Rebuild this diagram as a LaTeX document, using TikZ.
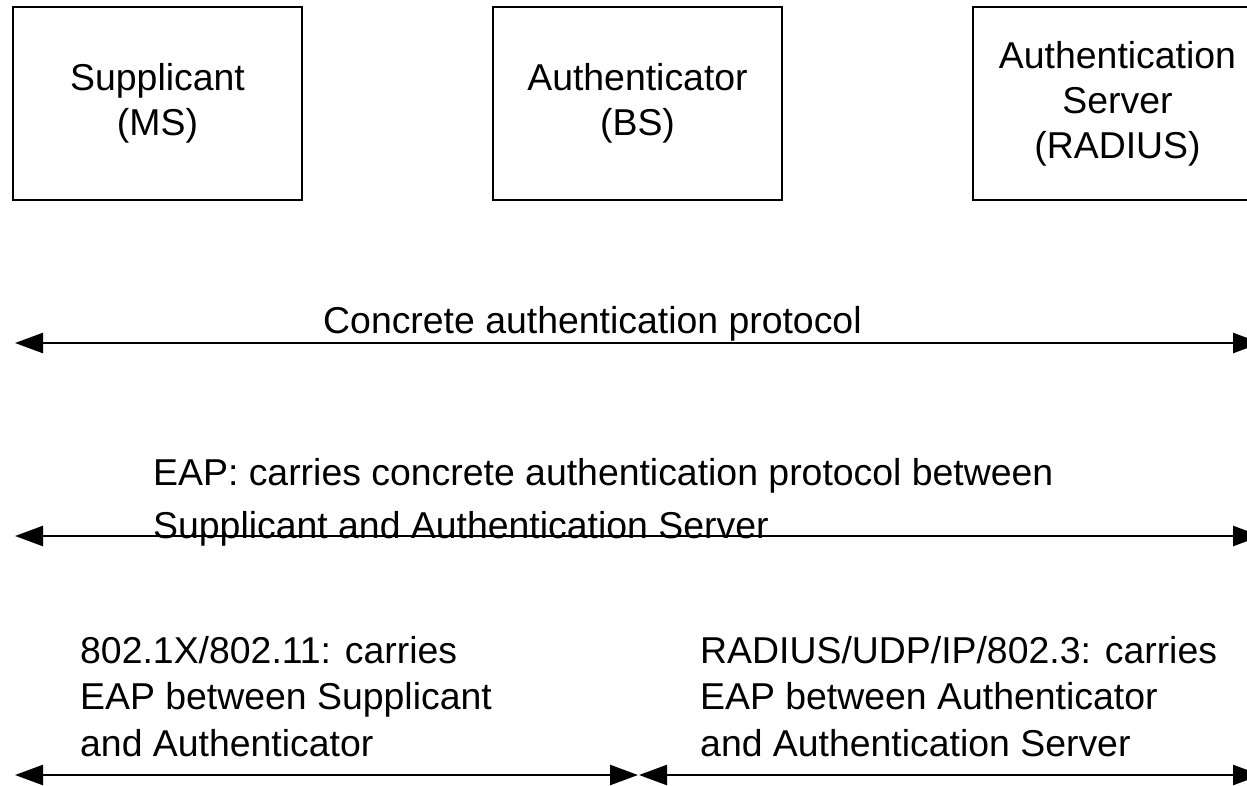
\documentclass[tikz,border=0pt]{standalone}
\usepackage{fontspec}
\setmainfont{Liberation Sans}
\usetikzlibrary{arrows.meta}
\begin{document}
\begin{tikzpicture}[x=1pt,y=-1pt,
  every node/.style={font=\fontsize{37.4}{45}\selectfont},
  entity/.style={draw,line width=2.5pt,minimum width=289pt,minimum height=193pt,align=center,inner sep=0pt},
  proto/.style={line width=2.5pt,{Triangle[length=28pt,width=20pt]}-{Triangle[length=28pt,width=20pt]}},
  lbl/.style={anchor=base west,align=left,inner sep=0pt}]
\useasboundingbox (0,0) rectangle (1247,785);
\node[entity] (sup) at (157.5,103.5) {Supplicant\\(MS)};
\node[entity] (auth) at (637.5,103.5) {Authenticator\\(BS)};
\node[entity] (srv) at (1117.5,103.5) {Authentication\\Server\\(RADIUS)};
\coordinate (a1l) at (15,343);
\coordinate (a1r) at (1261,343);
\coordinate (a2l) at (15,536);
\coordinate (a2r) at (1261,536);
\coordinate (a3l) at (15,775);
\coordinate (a3m) at (638,775);
\coordinate (a3n) at (639,775);
\coordinate (a3r) at (1261,775);
\draw[proto] (a1l) -- (a1r);
\draw[proto] (a2l) -- (a2r);
\draw[proto] (a3l) -- (a3m);
\draw[proto] (a3n) -- (a3r);
\node[lbl] (t1) at (323,333) {Concrete authentication protocol};
\node[lbl,font=\fontsize{37.4}{53}\selectfont] (t2) at (153,538) {EAP: carries concrete authentication protocol between\\Supplicant and Authentication Server};
\node[lbl,font=\fontsize{37.4}{46.5}\selectfont] (t3) at (80,756) {802.1X/802.11: carries\\EAP between Supplicant\\and Authenticator};
\node[lbl,font=\fontsize{37.4}{46.5}\selectfont] (t4) at (700,756) {RADIUS/UDP/IP/802.3: carries\\EAP between Authenticator\\and Authentication Server};
\end{tikzpicture}
\end{document}
